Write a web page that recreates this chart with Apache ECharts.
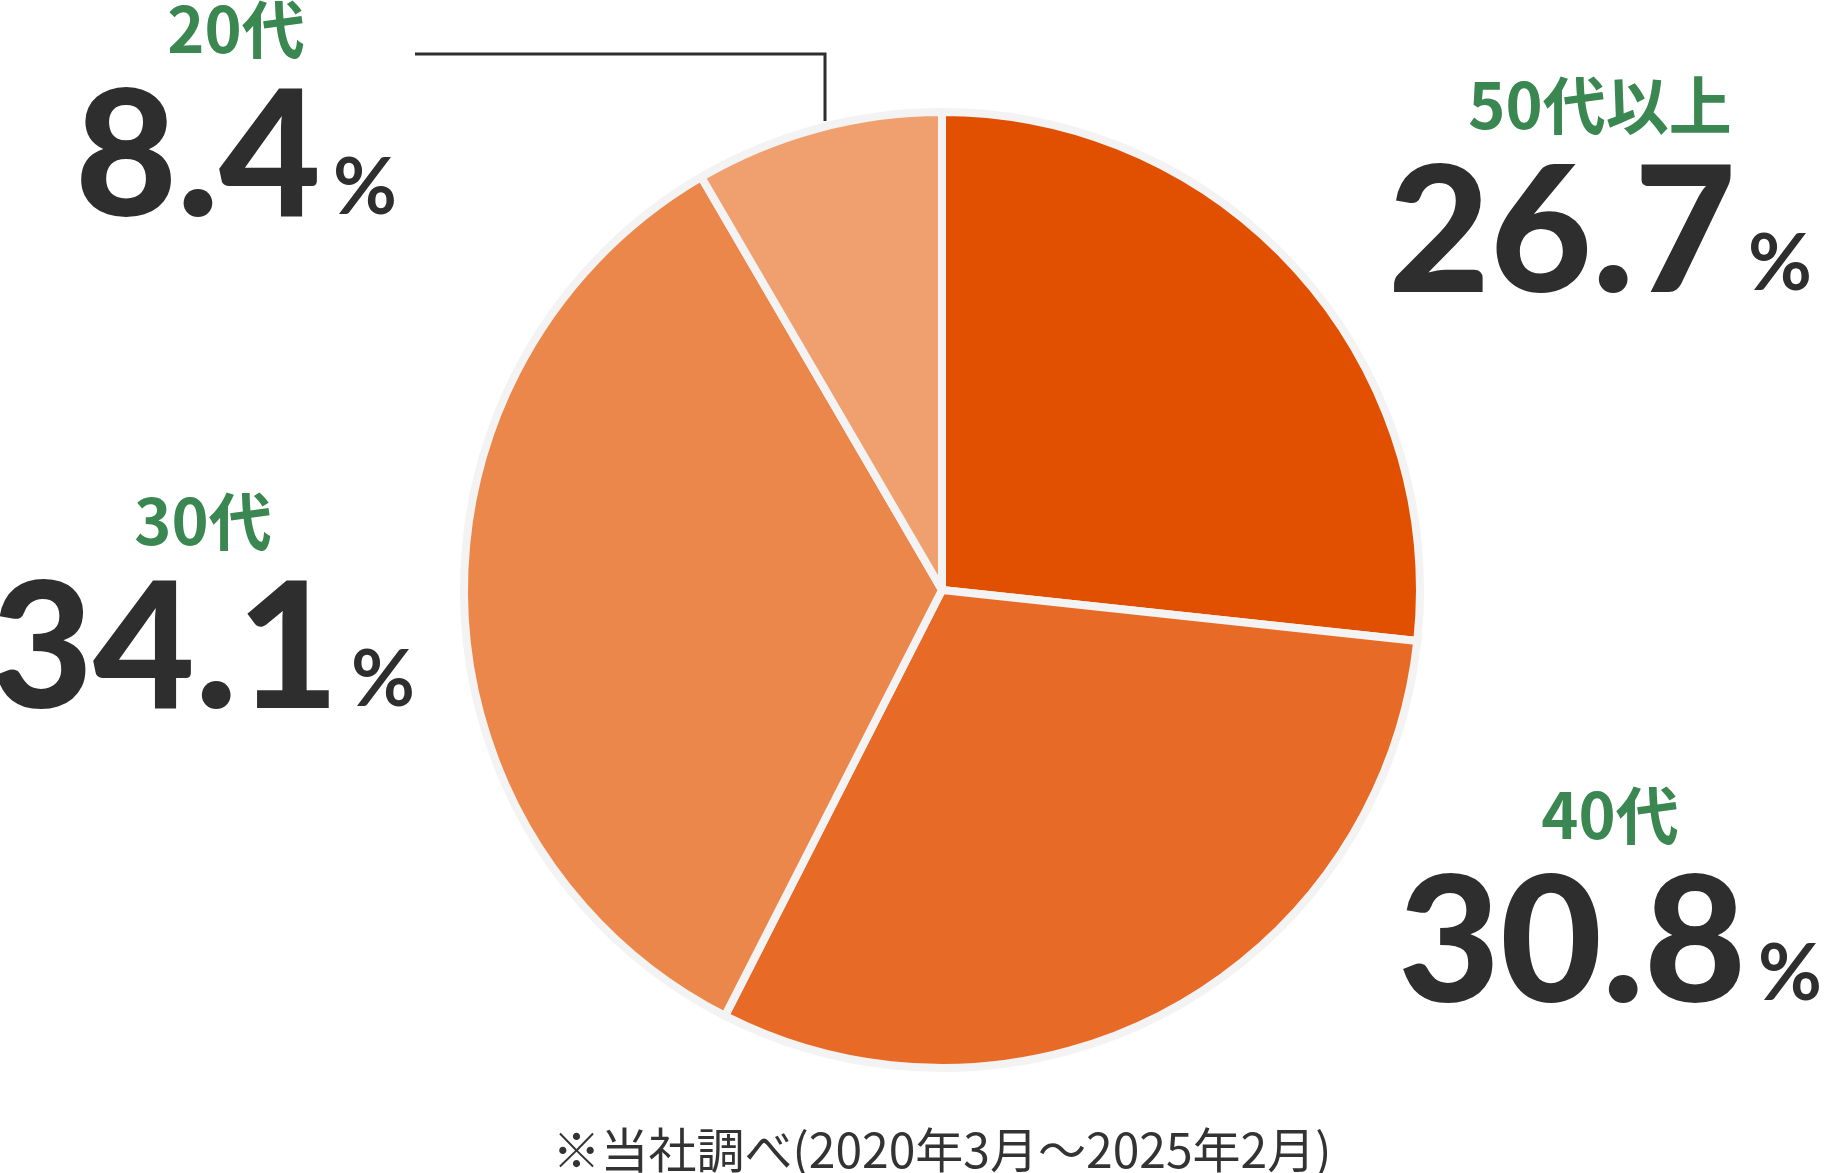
<!DOCTYPE html>
<html>
<head>
<meta charset="utf-8">
<script src="https://cdn.jsdelivr.net/npm/echarts@6/dist/echarts.min.js"></script>
<style>
html,body{margin:0;padding:0;background:#fff;}
#chart{width:1835px;height:1173px;}
</style>
</head>
<body>
<div id="chart"></div>
<script>
// ---- data ----
const categories = ['50代以上', '40代', '30代', '20代'];
const shares = [26.7, 30.8, 34.1, 8.4];
const footnote = '※当社調べ(2020年3月～2025年2月)';

// ---- styling / layout (kept apart from the data) ----
const sliceColors = ['#e14f00', '#e86a27', '#ec874b', '#f0a06f'];
const labelAnchors = [[1600, 72], [1610, 782], [203, 488], [236, -4]];
const leaderLine = [[825, 121], [825, 54], [415, 54]];

const chart = echarts.init(document.getElementById('chart'), null, {renderer: 'canvas'});

const data = categories.map((c, i) => ({
  name: c,
  value: shares[i],
  itemStyle: {color: sliceColors[i]},
  labelLine: {show: i === 3}
}));

chart.setOption({
  animation: false,
  series: [{
    type: 'pie',
    center: [942, 590],
    radius: [0, 478],
    startAngle: 90,
    clockwise: true,
    avoidLabelOverlap: false,
    itemStyle: {borderColor: '#f3f3f3', borderWidth: 8},
    emphasis: {disabled: true},
    label: {
      show: true,
      position: 'outside',
      formatter: p => '{name|' + p.name + '}\n{num|' + p.value.toFixed(1) + '}{pct|%}',
      rich: {
        name: {fontSize: 63, fontFamily: '"Noto Sans CJK JP"', fontWeight: 600, color: '#3b8752', lineHeight: 66},
        num: {fontSize: 176, fontFamily: 'Lato', fontWeight: 900, color: '#2e2e2e', lineHeight: 194},
        pct: {fontSize: 78, fontFamily: 'Lato', fontWeight: 700, color: '#2e2e2e', lineHeight: 64,
              verticalAlign: 'bottom', padding: [0, 0, 28, 12]}
      }
    },
    labelLine: {show: true, lineStyle: {color: '#2e2e2e', width: 3}, smooth: false},
    labelLayout: function (params) {
      const a = labelAnchors[params.dataIndex];
      const o = {x: a[0], y: a[1], align: 'center', verticalAlign: 'top'};
      if (params.dataIndex === 3) o.labelLinePoints = leaderLine;
      return o;
    },
    data: data
  }],
  graphic: [{
    type: 'text',
    x: 942,
    y: 1150,
    style: {
      text: footnote,
      fill: '#333333',
      font: '400 48px "Noto Sans CJK JP"',
      align: 'center',
      verticalAlign: 'middle'
    }
  }]
});
</script>
</body>
</html>
